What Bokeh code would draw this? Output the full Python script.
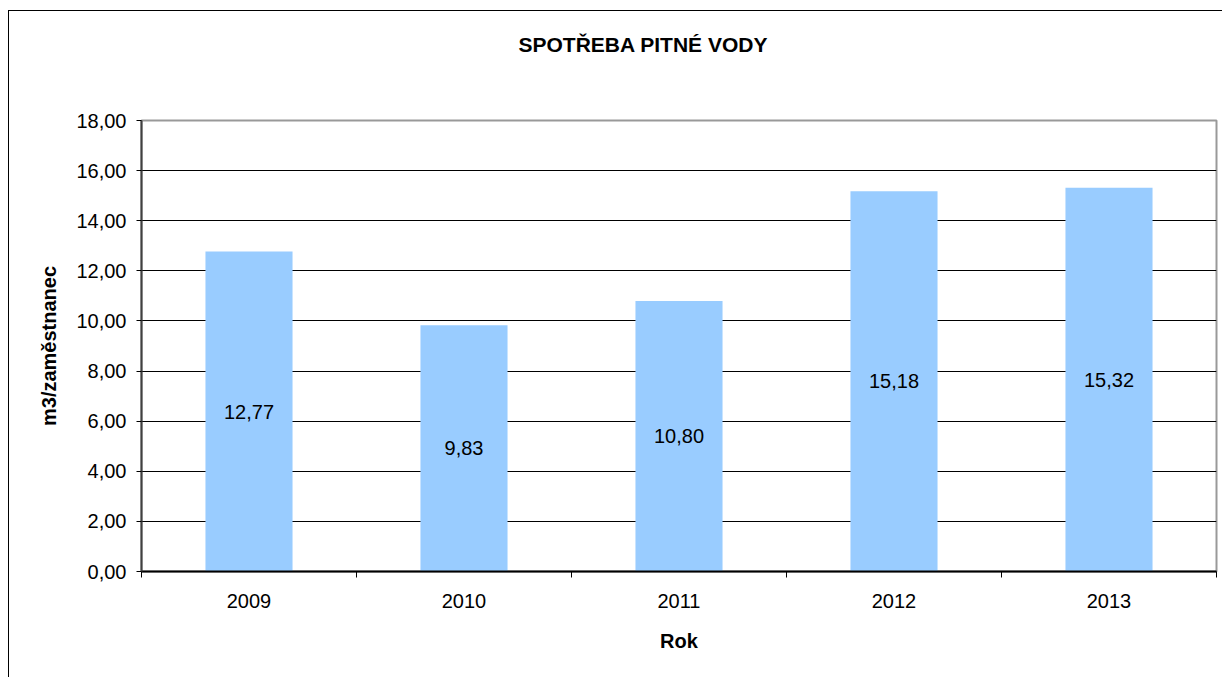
from bokeh.plotting import figure
from bokeh.models import (ColumnDataSource, FixedTicker, Range1d, LabelSet, Title,
                          CustomJSTickFormatter)
from bokeh.core.properties import value
from bokeh.embed import file_html
from bokeh.resources import INLINE

# ---- data ----
years = ["2009", "2010", "2011", "2012", "2013"]
values = [12.77, 9.83, 10.80, 15.18, 15.32]
y_ticks = [0, 2, 4, 6, 8, 10, 12, 14, 16, 18]
title_text = "SPOTŘEBA PITNÉ VODY"
y_label = "m3/zaměstnanec"
x_label = "Rok"

FONT = "Liberation Sans"

centers = [i + 0.5 for i in range(len(years))]
halves = [v / 2 for v in values]
texts = [f"{v:.2f}".replace(".", ",") for v in values]
src = ColumnDataSource(dict(x=centers, top=values, mid=halves, txt=texts))

p = figure(width=1214, height=667, output_backend="svg", toolbar_location=None,
           x_range=Range1d(0, len(years)), y_range=Range1d(y_ticks[0], y_ticks[-1]),
           min_border_left=132, min_border_right=7, min_border_top=109,
           min_border_bottom=107)
p.styles = {"border-left": "1px solid #000000", "border-top": "1px solid #000000",
            "margin-left": "8px", "margin-top": "10px"}

xa = p.below[0]
ya = p.left[0]

p.vbar(x="x", top="top", width=0.405, bottom=0, source=src,
       fill_color="#99CCFF", line_color=None)

p.add_layout(LabelSet(x="x", y="mid", text="txt", source=src,
                      text_align="center", text_baseline="middle",
                      text_font=value(FONT), text_font_size="20px",
                      text_color="#000000"))

# blank spacer panel between the frame and the title
spacer = Title(text=" ", text_font=FONT, text_font_size="1px", standoff=57,
               text_color="#ffffff")
p.add_layout(spacer, "above")

# title (outermost panel above the frame)
p.title = Title(text=title_text, align="left", offset=377, standoff=10,
                text_font=FONT, text_font_size="21px", text_font_style="bold",
                text_color="#000000")

# outline
p.outline_line_color = "#999999"
p.outline_line_width = 2

# grid
p.xgrid.visible = False
p.ygrid.ticker = FixedTicker(ticks=y_ticks[1:-1])
p.ygrid.grid_line_color = "#000000"
p.ygrid.grid_line_width = 1

# y axis
ya.ticker = FixedTicker(ticks=y_ticks)
ya.formatter = CustomJSTickFormatter(code="return tick.toFixed(2).replace('.', ',');")
ya.axis_line_color = "#404040"
ya.axis_line_width = 2
ya.major_tick_out = 5
ya.major_tick_in = 0
ya.major_tick_line_color = "#000000"
ya.minor_tick_line_color = None
ya.major_label_standoff = 10
ya.major_label_text_font = FONT
ya.major_label_text_font_size = "20px"
ya.major_label_text_color = "#000000"
ya.axis_label = y_label
ya.axis_label_text_font = FONT
ya.axis_label_text_font_size = "20px"
ya.axis_label_text_font_style = "bold"
ya.axis_label_text_color = "#000000"
ya.axis_label_standoff = 13

# x axis
xa.ticker = FixedTicker(ticks=centers, minor_ticks=list(range(len(years) + 1)))
xa.major_label_overrides = {c: y for c, y in zip(centers, years)}
xa.axis_line_color = "#000000"
xa.axis_line_width = 2
xa.major_tick_line_color = None
xa.major_tick_out = 0
xa.major_tick_in = 0
xa.minor_tick_line_color = "#000000"
xa.minor_tick_out = 6
xa.minor_tick_in = 0
xa.major_label_standoff = 16
xa.major_label_text_font = FONT
xa.major_label_text_font_size = "20px"
xa.major_label_text_color = "#000000"
xa.axis_label = x_label
xa.axis_label_text_font = FONT
xa.axis_label_text_font_size = "20px"
xa.axis_label_text_font_style = "bold"
xa.axis_label_text_color = "#000000"
xa.axis_label_standoff = 19

open("out.html", "w").write(file_html(p, INLINE))
